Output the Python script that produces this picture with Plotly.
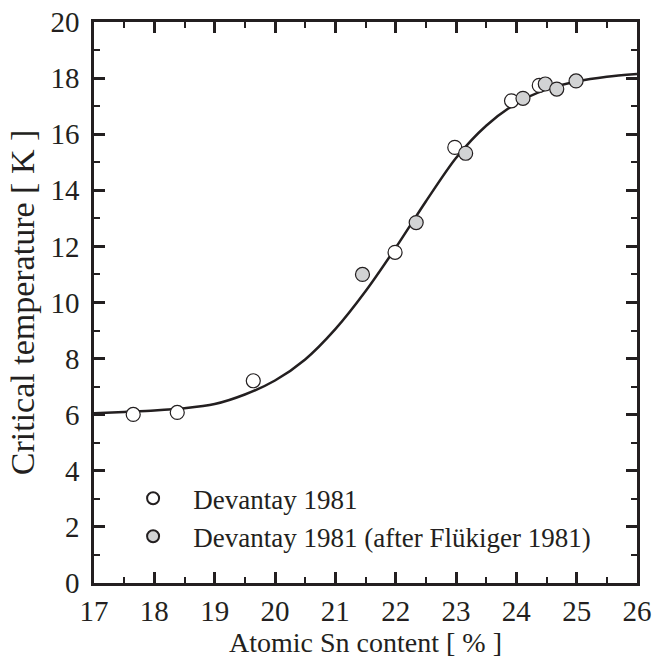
import plotly.graph_objects as go

# Data
open_x = [17.65, 18.38, 19.64, 21.99, 22.98, 23.92, 24.38]
open_y = [6.01, 6.08, 7.21, 11.79, 15.53, 17.19, 17.74]

gray_x = [21.45, 22.34, 23.16, 24.11, 24.48, 24.67, 24.99]
gray_y = [11.00, 12.85, 15.32, 17.28, 17.79, 17.61, 17.90]

curve_x = [17.0, 17.5, 18.0, 18.5, 19.0, 19.5, 20.0, 20.5, 21.0, 21.5, 22.0,
           22.5, 23.0, 23.5, 24.0, 24.5, 25.0, 25.5, 26.0]
curve_y = [6.05, 6.10, 6.15, 6.23, 6.38, 6.72, 7.22, 7.97, 9.05, 10.40, 11.95,
           13.60, 15.15, 16.30, 17.10, 17.60, 17.88, 18.05, 18.15]

x_ticks = [17, 18, 19, 20, 21, 22, 23, 24, 25, 26]
y_ticks = [0, 2, 4, 6, 8, 10, 12, 14, 16, 18, 20]

INK = "#231f20"
FONT = "Liberation Serif"
PAD = "\u00a0\u00a0\u00a0"

fig = go.Figure()
fig.add_trace(go.Scatter(
    x=curve_x, y=curve_y, mode="lines", line=dict(color=INK, width=2.5, shape="spline", smoothing=0.8),
    showlegend=False, hoverinfo="skip"))
fig.add_trace(go.Scatter(
    x=open_x, y=open_y, mode="markers", name=PAD + "Devantay 1981",
    marker=dict(symbol="circle", size=14, color="white", line=dict(color=INK, width=1.2))))
fig.add_trace(go.Scatter(
    x=gray_x, y=gray_y, mode="markers", name=PAD + "Devantay 1981 (after Flükiger 1981)",
    marker=dict(symbol="circle", size=14, color="#d2d3d4", line=dict(color=INK, width=1.2))))

axis_common = dict(
    showline=True, linecolor=INK, linewidth=2.5, mirror="allticks",
    ticks="inside", ticklen=11, tickwidth=2.5, tickcolor=INK,
    showgrid=False, zeroline=False,
    tickfont=dict(family=FONT, size=29, color=INK),
)

fig.update_xaxes(
    range=[17, 26], tickvals=x_ticks, ticktext=[str(v) for v in x_ticks],
    minor=dict(ticks="inside", ticklen=6, tickwidth=2, tickcolor=INK, dtick=0.5, tick0=17, showgrid=False),
    title=dict(text="Atomic Sn content [ % ]", font=dict(family=FONT, size=28, color=INK), standoff=6),
    ticklabelstandoff=0,
    **axis_common)
fig.update_yaxes(
    range=[0, 20], tickvals=y_ticks, ticktext=[str(v) for v in y_ticks],
    minor=dict(ticks="inside", ticklen=6, tickwidth=2, tickcolor=INK, dtick=1, tick0=0, showgrid=False),
    title=dict(text="Critical temperature [ K ]", font=dict(family=FONT, size=34, color=INK), standoff=6),
    ticklabelstandoff=6,
    **axis_common)

fig.update_layout(
    width=654, height=658,
    margin=dict(l=94, r=17, t=22, b=75, autoexpand=False),
    plot_bgcolor="white", paper_bgcolor="white",
    font=dict(family=FONT, size=27, color=INK),
    legend=dict(x=0.072, y=0.194, xanchor="left", yanchor="top",
                bgcolor="rgba(0,0,0,0)", borderwidth=0,
                font=dict(family=FONT, size=27, color=INK),
                itemsizing="constant", tracegroupgap=0),
)

fig.write_html("out.html")
